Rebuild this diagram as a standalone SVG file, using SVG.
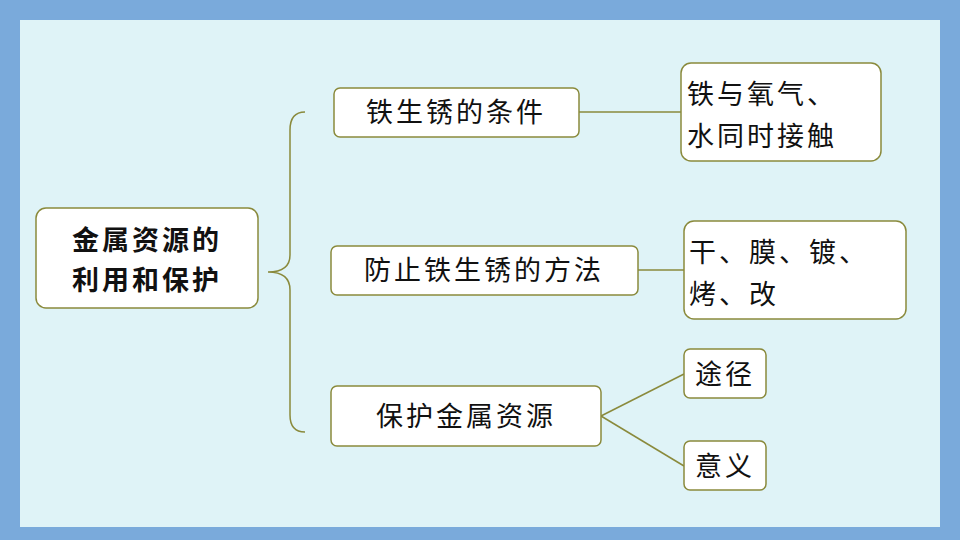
<svg xmlns="http://www.w3.org/2000/svg" width="960" height="540" viewBox="0 0 960 540">
<style>
.n{fill:#fff;stroke:#8a8a3c;stroke-width:1.5}
.t{font-family:"Noto Sans CJK SC","Noto Sans",sans-serif;font-size:27px;fill:#111;letter-spacing:3px}
.c{fill:none;stroke:#8a8a3c;stroke-width:1.5}
</style>
<rect x="0" y="0" width="960" height="540" fill="#7aaadb"/>
<rect x="20" y="20" width="920" height="507" fill="#dff3f7"/>
<g id="connectors">
<path class="c" d="M305,112 Q290,112 290,130 L290,255 Q290,272 268,272 Q290,272 290,290 L290,415 Q290,432 305,432"/>
<line class="c" x1="579" y1="112" x2="681" y2="112"/>
<line class="c" x1="638" y1="270" x2="684" y2="270"/>
<line class="c" x1="601" y1="416" x2="684" y2="374"/>
<line class="c" x1="601" y1="416" x2="684" y2="466"/>
</g>
<g id="root"><rect class="n" x="36" y="208" width="222" height="100" rx="10"/>
<text class="t" x="147" y="250" text-anchor="middle" font-weight="bold">金属资源的</text>
<text class="t" x="147" y="290" text-anchor="middle" font-weight="bold">利用和保护</text></g>
<g id="n1"><rect class="n" x="334" y="88" width="245" height="49" rx="6"/>
<text class="t" x="456" y="122" text-anchor="middle">铁生锈的条件</text></g>
<g id="n1a"><rect class="n" x="681" y="63" width="200" height="98" rx="10"/>
<text class="t" x="687" y="104">铁与氧气、</text>
<text class="t" x="687" y="146">水同时接触</text></g>
<g id="n2"><rect class="n" x="331" y="246" width="307" height="49" rx="6"/>
<text class="t" x="484" y="280" text-anchor="middle">防止铁生锈的方法</text></g>
<g id="n2a"><rect class="n" x="684" y="221" width="222" height="98" rx="10"/>
<text class="t" x="689" y="262">干、膜、镀、</text>
<text class="t" x="689" y="304">烤、改</text></g>
<g id="n3"><rect class="n" x="331" y="386" width="270" height="60" rx="6"/>
<text class="t" x="466" y="426" text-anchor="middle">保护金属资源</text></g>
<g id="n3a"><rect class="n" x="684" y="349" width="82" height="49" rx="6"/>
<text class="t" x="725" y="384" text-anchor="middle">途径</text></g>
<g id="n3b"><rect class="n" x="684" y="441" width="82" height="49" rx="6"/>
<text class="t" x="725" y="476" text-anchor="middle">意义</text></g>
</svg>
